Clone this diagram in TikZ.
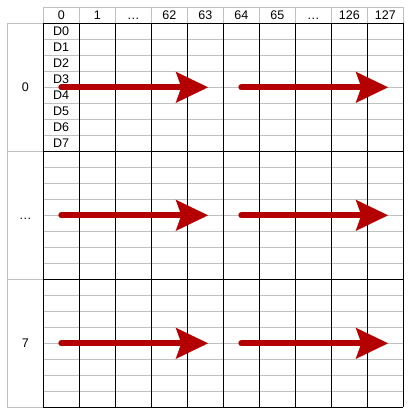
\documentclass[tikz,border=0pt]{standalone}
\usepackage{fontspec}
\setmainfont{Liberation Sans}
\usetikzlibrary{arrows.meta}
\definecolor{gridgray}{RGB}{192,192,192}
\definecolor{arrred}{RGB}{180,0,0}
\begin{document}
\begin{tikzpicture}[x=1pt,y=-1pt,
  lbl/.style={inner sep=0pt, text=black, anchor=base, font=\fontsize{12.5}{14}\selectfont},
  grayline/.style={draw=gridgray, line width=1pt},
  blackline/.style={draw=black, line width=1.2pt},
  bigarrow/.style={draw=arrred, line width=6pt, line cap=round,
    -{Stealth[length=32pt,width=30pt,inset=5pt,fill=arrred]}}]
\useasboundingbox (0,0) rectangle (412,415);
\fill[white] (0,0) rectangle (412,415);
% gray lines
\foreach \k in {1,...,7}{
  \foreach \b in {0,1,2}{
    \draw[grayline] (43.3,{23.3+128*\b+16*\k}) -- (403.3,{23.3+128*\b+16*\k});
  }
}
\draw[grayline] (43.3,7.3) -- (403.3,7.3);
\foreach \c in {0,...,10}{
  \draw[grayline] ({43.3+36*\c},7.3) -- ({43.3+36*\c},23.3);
}
\draw[grayline] (7.3,23.3) -- (7.3,407.3);
\foreach \b in {0,1,2,3}{
  \draw[grayline] (7.3,{23.3+128*\b}) -- (43.3,{23.3+128*\b});
}
% black lines
\foreach \c in {0,...,10}{
  \draw[blackline] ({43.3+36*\c},23.3) -- ({43.3+36*\c},407.3);
}
\foreach \b in {0,1,2,3}{
  \draw[blackline] (43.3,{23.3+128*\b}) -- (403.3,{23.3+128*\b});
}
% header labels
\foreach \t [count=\i from 0] in {0,1,…,62,63,64,65,…,126,127}{
  \node[lbl] (h\i) at ({61.3+36*\i},19.8) {\t};
}
% row labels
\node[lbl] (r0) at (25.3,91.6) {0};
\node[lbl] (r1) at (25.3,219.6) {…};
\node[lbl] (r2) at (25.3,347.6) {7};
% D labels
\foreach \i in {0,...,7}{
  \node[lbl, anchor=base west] (d\i) at (52.8,{35.4+16*\i}) {D\i};
}
% arrows
\foreach \b in {0,1,2}{
  \coordinate (a\b s) at (61.3,{87.3+128*\b});
  \coordinate (a\b e) at (208.3,{87.3+128*\b});
  \coordinate (b\b s) at (241.3,{87.3+128*\b});
  \coordinate (b\b e) at (388.3,{87.3+128*\b});
  \draw[bigarrow] (a\b s) -- (a\b e);
  \draw[bigarrow] (b\b s) -- (b\b e);
}
\end{tikzpicture}
\end{document}
